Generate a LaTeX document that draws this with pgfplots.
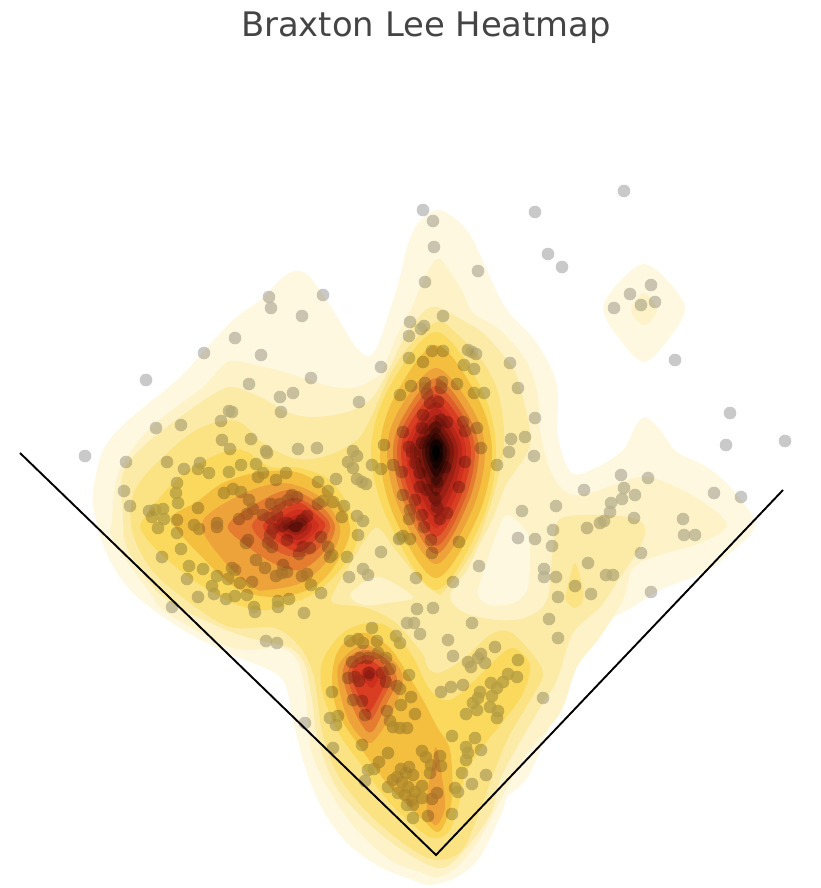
\documentclass[border=0pt]{standalone}
\usepackage{fontspec}
\setmainfont{DejaVu Sans}
\usepackage{pgfplots}
\pgfplotsset{compat=1.18}
\definecolor{c1}{HTML}{FFF8E1}
\definecolor{c2}{HTML}{FEF3C8}
\definecolor{c3}{HTML}{FCEBA6}
\definecolor{c4}{HTML}{FBE283}
\definecolor{c5}{HTML}{FAD95C}
\definecolor{c6}{HTML}{F4BF3F}
\definecolor{c7}{HTML}{EEA23A}
\definecolor{c8}{HTML}{E57D30}
\definecolor{c9}{HTML}{DF5D2A}
\definecolor{c10}{HTML}{D93E22}
\definecolor{c11}{HTML}{CF2F1D}
\definecolor{c12}{HTML}{B8261A}
\definecolor{c13}{HTML}{9C1F13}
\definecolor{c14}{HTML}{7C170E}
\definecolor{c15}{HTML}{5A110A}
\definecolor{c16}{HTML}{3A0A06}
\definecolor{c17}{HTML}{1C0503}
\definecolor{c18}{HTML}{000000}
\definecolor{titlegray}{HTML}{444444}
\pgfplotsset{lev/.style={draw=none,fill=#1,smooth cycle,tension=0.55,mark=none}}
% all dots as one path, so that a single fill does not darken where they overlap
\makeatletter
\def\dotunion@point#1{\pgfpathcircle{#1}{6.3pt}}
\pgfdeclareplothandler{\dotunion}{}{point macro=\dotunion@point}
\tikzset{dot union/.code={\let\tikz@plot@handler=\dotunion}}
\makeatother
\pgfplotstableread{
x y
85 456
146 380
204 353
235 338
261 355
269 297
271 308
302 316
323 295
381 367
311 378
249 384
280 397
293 393
281 412
359 402
156 428
181 425
126 462
167 462
184 469
200 463
198 469
209 473
229 411
232 412
221 421
222 440
230 449
251 439
266 451
267 453
298 449
317 448
353 451
357 456
348 462
353 468
372 465
381 469
393 465
384 445
229 472
241 465
256 464
258 477
263 473
286 473
276 480
318 482
336 479
357 479
362 482
366 484
177 483
176 493
178 503
124 491
130 506
224 493
233 489
241 492
249 500
149 511
155 510
163 509
152 517
164 519
158 528
198 508
177 520
177 533
181 549
162 557
194 525
199 529
217 523
217 527
239 519
247 514
253 509
271 504
280 504
288 500
292 495
297 497
263 515
270 518
277 515
282 526
273 529
287 523
295 526
302 520
307 516
287 540
270 535
268 543
272 547
248 540
246 543
321 537
318 504
328 491
323 501
333 502
344 506
342 517
357 516
363 521
358 535
328 547
332 555
330 557
347 557
381 552
400 538
363 569
368 575
349 577
321 593
311 585
307 574
302 576
310 548
303 547
299 554
283 565
287 572
276 576
282 573
256 560
265 568
252 582
240 583
228 579
217 576
232 568
235 570
203 569
189 566
187 579
212 586
214 594
198 597
226 599
235 596
247 595
254 607
255 612
278 601
278 607
289 599
304 613
172 607
266 641
277 643
423 210
433 221
535 212
548 254
562 267
434 247
478 271
425 282
443 316
410 322
424 326
421 329
409 336
432 351
443 351
468 350
472 352
476 354
409 358
423 362
464 365
474 369
510 363
518 388
474 393
484 393
457 384
411 386
400 395
425 383
425 388
427 394
442 382
441 388
430 403
438 402
423 415
441 420
447 422
463 422
465 431
477 428
403 432
422 428
435 428
481 448
511 439
509 452
525 437
409 447
412 452
422 443
430 440
437 445
415 463
445 467
437 457
465 462
497 465
402 472
420 473
437 470
437 482
459 487
420 487
403 495
427 490
435 498
415 500
410 510
409 519
422 515
424 527
447 513
440 519
437 507
431 540
432 553
459 542
403 536
399 539
410 539
416 578
453 582
479 566
624 191
651 285
630 294
655 302
641 305
614 308
675 360
535 418
534 456
730 413
726 445
785 441
621 475
648 478
624 488
622 499
635 495
584 490
611 503
610 512
604 521
600 523
634 518
587 528
714 493
741 497
683 519
684 535
695 535
556 506
522 511
553 530
518 538
535 539
552 546
641 553
588 563
544 569
544 577
556 577
606 575
613 575
575 586
591 594
558 597
651 592
549 619
558 638
372 628
350 641
358 639
363 643
377 641
396 636
400 643
417 609
433 608
472 623
407 623
414 623
420 634
448 640
453 656
495 647
518 660
481 654
478 658
485 663
468 662
471 667
508 674
517 677
503 682
491 683
497 688
463 685
451 687
441 692
480 692
478 698
492 696
473 703
490 707
498 711
466 714
477 710
497 718
543 698
352 662
360 658
368 658
378 653
386 658
390 669
409 675
382 673
369 673
355 677
348 678
359 681
386 682
397 686
400 689
332 692
411 697
401 705
353 700
362 701
415 714
387 711
365 715
338 716
330 718
336 725
305 723
390 721
393 727
400 728
407 728
362 745
333 748
388 753
379 762
374 769
368 770
365 781
452 736
475 738
466 747
468 753
481 750
466 760
486 775
462 773
472 784
455 788
458 792
422 751
426 757
440 756
441 766
431 765
430 773
409 767
401 769
406 773
413 775
397 777
393 780
402 782
388 787
408 787
422 786
398 793
415 792
405 795
422 798
412 800
407 805
413 805
437 793
432 799
428 816
413 818
452 814
}\pitches
\begin{document}
\begin{tikzpicture}
\begin{axis}[
  scale only axis,
  width=820pt, height=888pt,
  xmin=0, xmax=820, ymin=0, ymax=888,
  y dir=reverse,
  hide axis,
  clip=false,
]
% keeps the page at the full frame
\addplot[draw=none,mark=none] coordinates {(0,0)(820,888)};
% outer levels
\addplot[lev=c1] coordinates {(437,210)(457,220)(473,240)(490,277)(507,310)(537,343)(557,385)(558,437)(572,473)(597,467)(623,450)(635,427)(645,417)(660,430)(677,452)(707,467)(733,490)(755,525)(730,553)(703,573)(660,590)(633,607)(600,627)(567,670)(560,700)(530,773)(507,797)(503,810)(480,857)(457,877)(430,885)(413,880)(380,867)(347,843)(323,810)(305,767)(293,720)(287,690)(280,677)(265,668)(225,652)(175,625)(130,590)(105,550)(93,505)(95,480)(103,450)(125,423)(177,380)(203,352)(233,320)(260,300)(283,277)(297,271)(310,277)(333,310)(353,343)(367,356)(377,347)(390,310)(400,277)(407,247)(418,223)};
\addplot[lev=c1] coordinates {(644,264)(667,280)(685,308)(670,337)(644,362)(618,337)(603,308)(621,280)};
\addplot[lev=c2] coordinates {(644,293)(657,310)(644,325)(631,310)};
\addplot[lev=c2] coordinates {(437,259)(447,267)(463,293)(473,313)(500,330)(527,362)(538,397)(540,430)(550,470)(567,493)(590,493)(613,485)(640,477)(660,480)(700,500)(727,525)(700,543)(660,555)(633,568)(623,600)(600,637)(577,667)(560,713)(527,753)(507,787)(497,807)(477,843)(457,867)(437,877)(423,873)(390,860)(357,830)(333,797)(313,757)(308,723)(305,690)(297,660)(280,648)(233,648)(167,613)(150,593)(113,540)(112,520)(117,477)(137,443)(163,417)(203,387)(220,368)(230,361)(247,363)(277,370)(310,380)(333,387)(357,387)(377,377)(383,370)(395,340)(412,307)(425,277)};
\addplot[lev=c1] coordinates {(507,515)(527,533)(530,560)(527,590)(513,603)(490,605)(478,595)(482,577)(497,533)};
\addplot[lev=c3] coordinates {(437,307)(457,317)(483,333)(507,360)(517,377)(530,430)(527,453)(507,483)(500,500)(492,520)(480,543)(467,570)(450,595)(463,612)(497,620)(527,617)(547,600)(552,557)(557,523)(570,516)(600,515)(633,518)(645,528)(640,547)(623,573)(600,607)(573,633)(557,680)(543,703)(517,747)(500,780)(490,815)(460,855)(437,868)(395,845)(360,815)(335,785)(318,740)(312,700)(305,665)(290,648)(250,638)(215,625)(163,597)(128,550)(123,515)(123,473)(147,443)(190,410)(217,392)(233,387)(260,397)(287,412)(310,417)(333,415)(353,410)(373,397)(390,367)(403,340)(423,312)};
\addplot[lev=c4] coordinates {(575,563)(582,585)(583,600)(575,608)(566,600)(568,585)};
\addplot[lev=c4] coordinates {(437,322)(455,332)(483,362)(498,392)(504,430)(502,460)(492,500)(478,540)(463,567)(445,590)(425,615)(425,660)(437,673)(462,660)(490,635)(510,632)(533,655)(543,675)(530,700)(507,740)(493,775)(480,810)(462,850)(437,860)(410,848)(370,815)(338,775)(323,735)(318,703)(313,673)(300,647)(275,628)(230,627)(190,603)(152,570)(132,530)(135,490)(165,455)(200,428)(237,421)(263,443)(293,458)(323,457)(357,440)(373,413)(390,375)(410,345)};
\addplot[lev=c3] coordinates {(378,528)(397,552)(425,585)(445,600)(450,625)(435,668)(420,650)(395,622)(367,608)(333,603)(335,590)(350,565)(365,540)};
\addplot[lev=c2] coordinates {(350,595)(367,580)(380,577)(397,585)(413,598)(387,603)(363,605)};
% left peak
\addplot[lev=c5] coordinates {(143,520)(173,483)(200,463)(230,450)(247,452)(270,467)(300,468)(333,483)(357,527)(350,557)(323,587)(300,600)(267,610)(233,603)(193,580)(160,553)(143,533)};
\addplot[lev=c6] coordinates {(172,520)(197,502)(223,483)(260,472)(300,473)(333,495)(350,527)(340,557)(317,585)(280,597)(240,590)(205,560)};
\addplot[lev=c7] coordinates {(202,523)(240,495)(283,483)(320,497)(340,527)(330,557)(303,582)(267,590)(253,587)(223,560)};
\addplot[lev=c8] coordinates {(228,525)(257,503)(290,490)(320,505)(335,527)(323,553)(300,570)(273,563)(243,543)};
\addplot[lev=c9] coordinates {(252,525)(277,505)(297,498)(320,512)(330,527)(317,550)(295,557)(270,547)};
\addplot[lev=c10] coordinates {(263,525)(283,510)(300,503)(320,518)(325,527)(310,545)(297,552)(275,540)};
\addplot[lev=c11] coordinates {(273,525)(290,512)(303,510)(317,522)(318,528)(307,540)(297,545)(282,537)};
\addplot[lev=c12] coordinates {(278,526)(292,517)(303,515)(312,525)(307,535)(297,540)(285,535)};
\addplot[lev=c13] coordinates {(283,527)(293,520)(302,518)(308,526)(302,533)(295,535)(288,532)};
\addplot[lev=c14] coordinates {(288,527)(295,522)(302,523)(303,527)(298,532)(292,531)};
% central peak
\addplot[lev=c5] coordinates {(436,332)(482,390)(496,452)(482,520)(436,590)(388,520)(371,452)(388,390)};
\addplot[lev=c6] coordinates {(436,345)(478,398)(492,452)(478,516)(436,578)(394,516)(380,452)(394,398)};
\addplot[lev=c7] coordinates {(436,368)(473,410)(485,452)(473,508)(436,564)(399,508)(387,452)(399,410)};
\addplot[lev=c8] coordinates {(436,378)(468,415)(479,452)(468,503)(436,554)(404,503)(393,452)(404,415)};
\addplot[lev=c9] coordinates {(436,386)(465,419)(475,452)(465,499)(436,546)(407,499)(397,452)(407,419)};
\addplot[lev=c10] coordinates {(436,394)(462,423)(471,452)(462,494)(436,537)(410,494)(401,452)(410,423)};
\addplot[lev=c11] coordinates {(436,402)(458,427)(466,452)(458,490)(436,528)(414,490)(406,452)(414,427)};
\addplot[lev=c12] coordinates {(436,408)(455,430)(462,452)(455,485)(436,518)(417,485)(410,452)(417,430)};
\addplot[lev=c13] coordinates {(436,415)(452,433)(458,452)(452,480)(436,507)(420,480)(414,452)(420,433)};
\addplot[lev=c14] coordinates {(436,421)(449,436)(454,452)(449,474)(436,496)(423,474)(418,452)(423,436)};
\addplot[lev=c15] coordinates {(436,427)(446,439)(450,452)(446,469)(436,486)(426,469)(422,452)(426,439)};
\addplot[lev=c16] coordinates {(436,433)(444,442)(447,452)(444,464)(436,477)(428,464)(425,452)(428,442)};
\addplot[lev=c17] coordinates {(436,439)(442,445)(443,452)(442,460)(436,469)(430,460)(429,452)(430,445)};
\addplot[lev=c18] coordinates {(436,445)(439,448)(440,452)(439,456)(436,461)(433,456)(432,452)(433,448)};
% bottom peak
\addplot[lev=c5] coordinates {(368,623)(390,628)(413,657)(430,690)(450,700)(475,680)(495,660)(513,648)(530,665)(522,695)(500,725)(480,750)(465,775)(460,800)(450,830)(437,838)(423,833)(390,803)(360,763)(337,730)(322,690)(323,660)(343,633)};
\addplot[lev=c6] coordinates {(367,633)(390,648)(407,673)(423,700)(437,727)(450,750)(452,797)(445,823)(437,832)(423,820)(390,787)(360,747)(338,713)(332,680)(337,653)(350,638)};
\addplot[lev=c7] coordinates {(436,747)(442,777)(445,807)(437,825)(428,817)(427,797)(432,767)};
\addplot[lev=c7] coordinates {(367,645)(393,660)(403,680)(393,710)(380,733)(368,743)(350,723)(340,693)(338,667)(352,650)};
\addplot[lev=c8] coordinates {(368,650)(387,660)(397,680)(387,703)(372,732)(360,722)(347,693)(343,670)(352,655)};
\addplot[lev=c9] coordinates {(368,655)(384,664)(391,680)(382,700)(371,720)(362,712)(351,690)(348,672)(355,660)};
\addplot[lev=c10] coordinates {(368,660)(380,667)(386,680)(378,698)(369,712)(362,702)(355,687)(352,672)(358,664)};
\addplot[lev=c11] coordinates {(369,666)(376,671)(378,680)(372,688)(366,683)(361,675)(363,669)};
\addplot[lev=c12] coordinates {(369,670)(374,674)(373,680)(368,681)(364,675)};
% plate lines
\addplot[black,line width=1.9pt,mark=none] coordinates {(20,453)(436,855)(783,490)};
% pitches: a flat layer, then a faint one that shows the overlaps
\addplot[dot union,draw=none,fill=black,fill opacity=0.16,mark=none] table[x=x,y=y] {\pitches};
\addplot[only marks,mark=*,mark size=6.3pt,mark options={draw opacity=0,line width=0pt,fill=black,fill opacity=0.06}] table[x=x,y=y] {\pitches};
\node[text=titlegray,font=\fontsize{33.8}{38}\selectfont,anchor=center] at (axis cs:426,28) {Braxton Lee Heatmap};
\end{axis}
\end{tikzpicture}
\end{document}
